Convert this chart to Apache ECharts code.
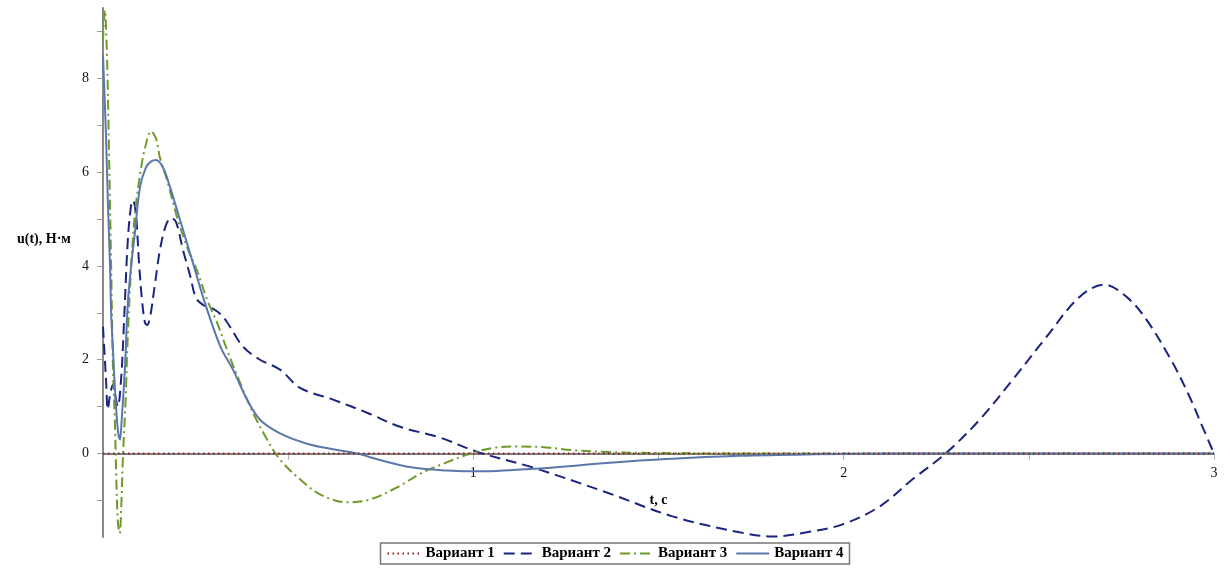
<!DOCTYPE html>
<html><head><meta charset="utf-8">
<script src="https://cdn.jsdelivr.net/npm/echarts@6/dist/echarts.min.js"></script>
<style>html,body{margin:0;padding:0;background:#fff}#c{width:1230px;height:568px}</style>
</head><body><div id="c"></div>
<script>
const legendNames = ['Вариант 1', 'Вариант 2', 'Вариант 3', 'Вариант 4'];
const yTickValues = [-1, 0, 1, 2, 3, 4, 5, 6, 7, 8, 9];
const yLabelValues = [0, 2, 4, 6, 8];
const xTickValues = [0.5, 1, 1.5, 2, 2.5, 3];
const xLabelValues = [1, 2, 3];

const v1T = [0, 3];
const v1U = [0, 0];

const v2T = [0.000,0.008,0.013,0.019,0.027,0.035,0.040,0.049,0.057,0.067,0.076,0.081,0.089,0.097,0.105,0.113,0.119,0.127,0.140,0.154,0.170,0.184,0.197,0.216,0.235,0.251,0.270,0.294,0.316,0.335,0.378,0.424,0.478,0.532,0.621,0.713,0.802,0.910,1.009,1.161,1.360,1.538,1.719,1.808,1.900,1.997,2.097,2.186,2.278,2.367,2.456,2.548,2.637,2.704,2.764,2.818,2.888,2.934,2.969,3.000];
const v2U = [2.70,1.60,0.94,1.25,1.47,1.15,1.00,1.60,2.85,4.55,5.30,5.40,5.10,4.10,3.30,2.80,2.74,2.90,3.60,4.35,4.87,5.02,4.94,4.34,3.80,3.32,3.17,3.10,2.98,2.80,2.28,2.00,1.79,1.40,1.15,0.87,0.57,0.34,0.04,-0.30,-0.83,-1.34,-1.68,-1.77,-1.68,-1.51,-1.13,-0.55,0.02,0.72,1.57,2.49,3.34,3.60,3.34,2.85,1.94,1.21,0.57,0.00];

const v3T = [0.000,0.005,0.011,0.016,0.022,0.027,0.032,0.036,0.040,0.045,0.049,0.054,0.061,0.067,0.076,0.086,0.100,0.113,0.130,0.143,0.154,0.173,0.200,0.227,0.254,0.281,0.308,0.335,0.370,0.405,0.443,0.478,0.532,0.586,0.659,0.721,0.794,0.864,0.928,0.999,1.063,1.125,1.198,1.269,1.370,1.500,1.720,2.000,2.500,3.000];
const v3U = [8.80,9.45,8.40,6.50,4.00,1.80,0.70,-0.55,-1.45,-1.70,-1.20,-0.05,1.15,2.50,4.00,5.10,5.95,6.50,6.87,6.72,6.30,5.83,5.04,4.40,3.90,3.28,2.79,2.21,1.51,0.87,0.30,-0.13,-0.55,-0.87,-1.04,-0.98,-0.72,-0.40,-0.19,0.02,0.13,0.15,0.13,0.07,0.03,0.01,0.00,0.00,0.00,0.00];

const v4T = [0.000,0.008,0.013,0.019,0.022,0.027,0.032,0.040,0.046,0.050,0.059,0.067,0.076,0.086,0.100,0.116,0.130,0.143,0.162,0.181,0.200,0.216,0.243,0.270,0.297,0.321,0.351,0.389,0.424,0.478,0.551,0.621,0.686,0.748,0.837,0.928,1.018,1.107,1.198,1.287,1.360,1.450,1.538,1.719,1.900,2.150,2.500,3.000];
const v4U = [8.50,6.80,5.40,4.00,3.00,2.20,1.43,0.51,0.30,0.66,1.80,3.20,4.00,4.70,5.68,6.10,6.23,6.26,6.10,5.68,5.19,4.77,4.06,3.34,2.70,2.21,1.79,1.15,0.72,0.43,0.21,0.09,0.00,-0.14,-0.30,-0.36,-0.38,-0.35,-0.31,-0.25,-0.20,-0.15,-0.11,-0.05,-0.02,0.00,0.00,0.00];

const yMin = -1.78, yMax = 9.5;
function zip(t, u) { return t.map((x, i) => [x, u[i]]); }

const gridTop = 8, gridBottom = 31, chartH = 568;
const gridH = chartH - gridTop - gridBottom;
// move the x axis up from the grid bottom to the u = 0 line
const xAxisOffset = -gridH * (0 - yMin) / (yMax - yMin);

const serif = 'Liberation Serif';
const chart = echarts.init(document.getElementById('c'), null, {renderer: 'canvas'});
chart.setOption({
  animation: false,
  backgroundColor: '#fff',
  title: {
    text: 'u(t), Н·м', left: 12, top: 227,
    textStyle: {fontFamily: serif, fontWeight: 'bold', fontSize: 14, color: '#000'}
  },
  grid: {left: 103, right: 16, top: gridTop, bottom: gridBottom, containLabel: false, outerBoundsMode: 'none'},
  legend: {
    data: legendNames, left: 'center', top: 543,
    itemWidth: 33, itemHeight: 14, itemGap: 8,
    padding: [3, 6], borderColor: '#777', borderWidth: 1.5,
    itemStyle: {opacity: 0},
    textStyle: {fontFamily: serif, fontWeight: 'bold', fontSize: 15, color: '#000'}
  },
  xAxis: {
    type: 'value', min: 0, max: 3,
    position: 'bottom', offset: xAxisOffset,
    name: 't, c', nameLocation: 'middle', nameGap: 40, nameMoveOverlap: false,
    nameTextStyle: {fontFamily: serif, fontWeight: 'bold', fontSize: 14, color: '#000'},
    axisLine: {onZero: false, lineStyle: {color: '#555', width: 1.5}},
    axisTick: {show: true, inside: false, length: 6, customValues: xTickValues, lineStyle: {color: '#aaa'}},
    axisLabel: {customValues: xLabelValues, margin: 13, fontFamily: serif, fontSize: 14, color: '#111'},
    splitLine: {show: false}
  },
  yAxis: {
    type: 'value', min: yMin, max: yMax,
    axisLine: {show: true, lineStyle: {color: '#888', width: 2}},
    axisTick: {show: true, inside: false, length: 6, customValues: yTickValues, lineStyle: {color: '#999'}},
    axisLabel: {customValues: yLabelValues, margin: 14, fontFamily: serif, fontSize: 14, color: '#111'},
    splitLine: {show: false}
  },
  series: [
    {name: legendNames[0], type: 'line', data: zip(v1T, v1U), showSymbol: false, symbol: 'none', z: 5,
     lineStyle: {color: '#8b1c1c', width: 2, type: [1.5, 3.5]}, itemStyle: {color: '#8b1c1c'}},
    {name: legendNames[1], type: 'line', data: zip(v2T, v2U), showSymbol: false, symbol: 'none', smooth: 0.35,
     lineStyle: {color: '#1b2580', width: 2, type: [11, 6]}, itemStyle: {color: '#1b2580'}},
    {name: legendNames[2], type: 'line', data: zip(v3T, v3U), showSymbol: false, symbol: 'none', smooth: 0.35,
     lineStyle: {color: '#6e9a2c', width: 2, type: [10, 4, 2, 4]}, itemStyle: {color: '#6e9a2c'}},
    {name: legendNames[3], type: 'line', data: zip(v4T, v4U), showSymbol: false, symbol: 'none', smooth: 0.35,
     lineStyle: {color: '#5b78ad', width: 2, type: 'solid'}, itemStyle: {color: '#5b78ad'}}
  ]
});
</script></body></html>
